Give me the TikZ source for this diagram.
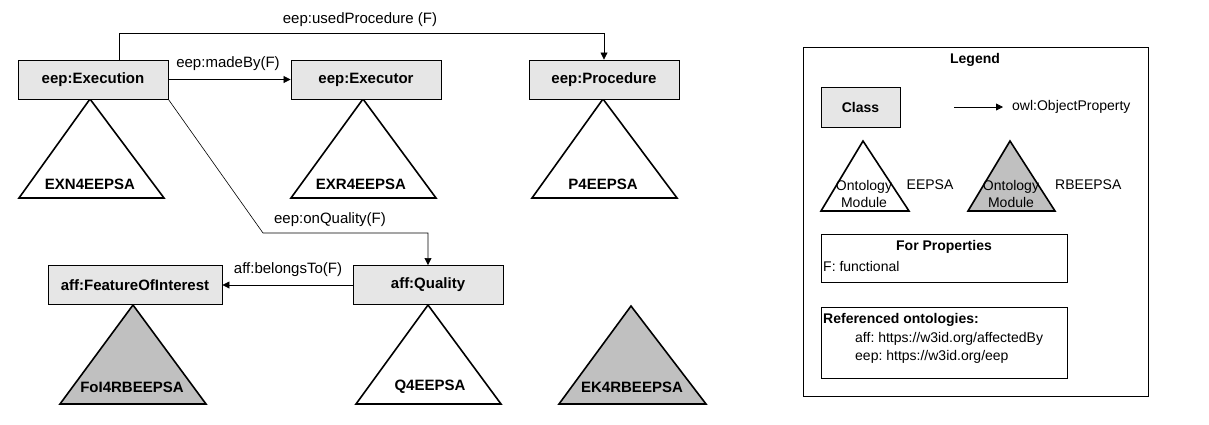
\documentclass[tikz,border=0pt]{standalone}
\usepackage{fontspec}
\setmainfont{Liberation Sans}
\usetikzlibrary{arrows.meta}
\definecolor{classfill}{HTML}{E6E6E6}
\definecolor{modgray}{HTML}{C0C0C0}
\frenchspacing

\tikzset{
  classbox/.style={draw, fill=classfill, line width=0.9pt, minimum width=150pt,
    minimum height=39pt, inner sep=0pt, font=\fontsize{15}{18}\selectfont\bfseries},
  modlabel/.style={inner sep=0pt, font=\fontsize{15}{18}\selectfont\bfseries},
  proplabel/.style={inner sep=0pt, font=\fontsize{15}{18}\selectfont},
  prop/.style={line width=0.8pt, -{Triangle[length=7pt,width=7pt]}},
  module/.style={draw, line width=1.6pt, line join=miter, fill=white},
  rbmodule/.style={module, fill=modgray},
  legtext/.style={inner sep=0pt, font=\fontsize{14}{17}\selectfont},
  legbold/.style={legtext, font=\fontsize{14}{17}\selectfont\bfseries},
  legbox/.style={draw, line width=0.8pt},
}

\begin{document}
\begin{tikzpicture}[x=1pt, y=-1pt]
  \useasboundingbox[fill=white] (0,0) rectangle (1209,424);

  % ontology modules (triangles) under their classes
  \draw[module]   (90,99)  -- (164,198) -- (19,198)  -- cycle;
  \draw[module]   (363,99) -- (436,198) -- (291,198) -- cycle;
  \draw[module]   (603,99) -- (677,198) -- (532,198) -- cycle;
  \draw[rbmodule] (133,305) -- (206,404) -- (60,404)  -- cycle;
  \draw[module]   (428,305) -- (501,404) -- (356,404) -- cycle;
  \draw[rbmodule] (631,306) -- (706,404) -- (559,404) -- cycle;

  \node[modlabel] (mexn) at (90,184)  {EXN4EEPSA};
  \node[modlabel] (mexr) at (361,184) {EXR4EEPSA};
  \node[modlabel] (mp)   at (603,184) {P4EEPSA};
  \node[modlabel] (mfoi) at (132,387) {FoI4RBEEPSA};
  \node[modlabel] (mq)   at (430,387) {Q4EEPSA};
  \node[modlabel] (mek)  at (632,387) {EK4RBEEPSA};

  % classes
  \node[classbox] (exec)  at (93,79.5)  {eep:Execution};
  \node[classbox] (execr) at (366,79.5) {eep:Executor};
  \node[classbox] (proc)  at (604,79.5) {eep:Procedure};
  \node[classbox, minimum width=174pt] (foi) at (135,285) {aff:FeatureOfInterest};
  \node[classbox] (qual)  at (428,285)  {aff:Quality};

  % object properties
  \draw[prop] ([xshift=26pt]exec.north) -- ++(0,-26) -| (proc.north);
  \draw[prop] (exec.east) -- (execr.west);
  \coordinate (qbend) at (263,233);
  \draw[prop, line width=0.6pt] (exec.south east) -- (qbend) -| (qual.north);
  \draw[prop] (qual.west) -- (foi.east);

  \node[proplabel] (lused)  at (360,20)  {eep:usedProcedure (F)};
  \node[proplabel] (lmade)  at (228,64)  {eep:madeBy(F)};
  \node[proplabel] (lqual)  at (330,220) {eep:onQuality(F)};
  \node[proplabel] (lbelo)  at (288,270) {aff:belongsTo(F)};

  % legend
  \draw[legbox] (803,47) rectangle (1148,396);
  \node[legbold] (legt) at (975,60) {Legend};
  \node[classbox, minimum width=79pt, minimum height=40pt,
        font=\fontsize{14}{17}\selectfont\bfseries] (lclass) at (860.5,107) {Class};
  \coordinate (la1) at (954,107);
  \coordinate (la2) at (1003,107);
  \draw[prop] (la1) -- (la2);
  \node[legtext, anchor=west] (lop) at (1012,107) {owl:ObjectProperty};

  \draw[module]   (863,141)  -- (909,211)  -- (821,211) -- cycle;
  \draw[rbmodule] (1010,141) -- (1055,211) -- (968,211) -- cycle;
  \node[legtext, align=center] (lm1) at (864,194) {Ontology\\Module};
  \node[legtext, align=center] (lm2) at (1011,194) {Ontology\\Module};
  \node[legtext] (lee) at (930,185) {EEPSA};
  \node[legtext, anchor=west] (lrb) at (1055,185) {RBEEPSA};

  \draw[legbox] (821,234) rectangle (1067,282);
  \node[legbold] (lfp) at (944,247) {For Properties};
  \node[legtext, anchor=west] (lfn) at (823,266) {F: functional};

  \draw[legbox] (821,307) rectangle (1067,378);
  \node[legbold, anchor=west] (lref) at (823,320) {Referenced ontologies:};
  \node[legtext, anchor=west] (laff) at (855,339) {aff: https://w3id.org/affectedBy};
  \node[legtext, anchor=west] (leep) at (855,357) {eep: https://w3id.org/eep};
\end{tikzpicture}
\end{document}
